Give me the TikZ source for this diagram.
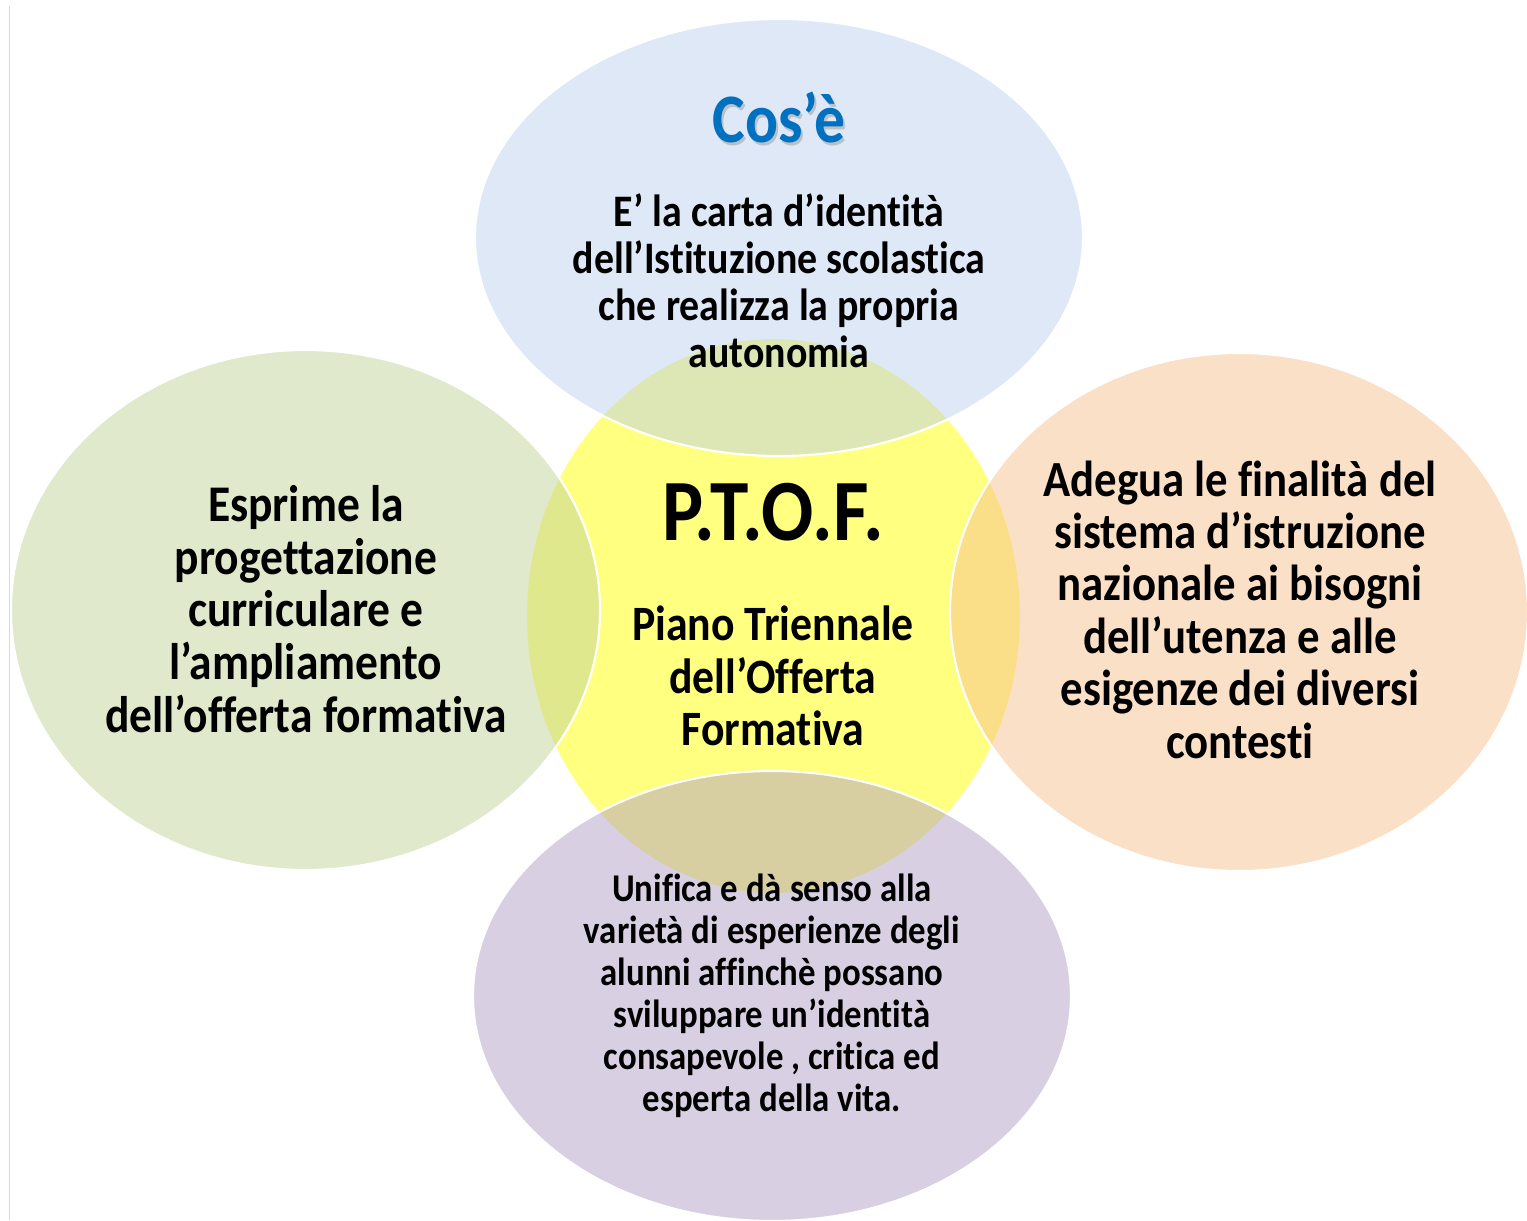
\documentclass[tikz,border=0pt]{standalone}
\usepackage{fontspec}
\setmainfont{Carlito}[Ligatures={NoCommon,NoRequired,NoContextual}]
\usepackage{tikz}

\definecolor{ptofyellow}{RGB}{255,255,128}
\definecolor{coseblue}{RGB}{189,209,237}
\definecolor{leftgreen}{RGB}{193,211,153}
\definecolor{rightpeach}{RGB}{247,193,145}
\definecolor{downlilac}{RGB}{177,161,197}
\definecolor{titleblue}{RGB}{0,112,192}

\begin{document}
\begin{tikzpicture}[x=0.02cm, y=-0.02cm,
        bubble/.style={draw=white, line width=1.2pt, fill opacity=0.5},
        body/.style={align=center, yscale=1.13}]
        \useasboundingbox (0,0) rectangle (1527,1220);
        \draw [black!15, line width=0.6pt] (9.5,6) -- (9.5,1220);

        \coordinate (ptof) at (773.5,616);
        \coordinate (cose) at (779,237.5);
        \coordinate (sx) at (305.5,610);
        \coordinate (dx) at (1239,612);
        \coordinate (giu) at (772,996);

        \fill [ptofyellow] (ptof) ellipse [x radius=246.5, y radius=277];
        \draw [bubble, fill=coseblue] (cose) ellipse [x radius=304, y radius=218.5];
        \draw [bubble, fill=leftgreen] (sx) ellipse [x radius=294.5, y radius=260];
        \draw [bubble, fill=rightpeach] (dx) ellipse [x radius=289, y radius=259];
        \draw [bubble, fill=downlilac] (giu) ellipse [x radius=299, y radius=225];

        % testi
        \node [body, anchor=base, text=black!40, opacity=0.5, font=\bfseries\fontsize{35}{40}\selectfont] (coseshadow) at (781,145.5) {Cos’è};
        \node [body, anchor=base, text=titleblue, font=\bfseries\fontsize{35}{40}\selectfont] (cosetitle) at (779,142.7) {Cos’è};
        \node [body, font=\bfseries\fontsize{22.7}{23.7}\selectfont] (cosetext) at (779,281) {E’ la carta d’identità\\ dell’Istituzione scolastica\\ che realizza la propria\\ autonomia};

        \node [body, anchor=base, font=\bfseries\fontsize{44}{50}\selectfont] (ptoftitle) at (773,540) {P.T.O.F.};
        \node [body, font=\bfseries\fontsize{24.9}{26.6}\selectfont] (ptoftext) at (773,676) {Piano Triennale\\ dell’Offerta\\ Formativa};

        \node [body, font=\bfseries\fontsize{25.9}{26.5}\selectfont] (sxtext) at (306,609) {Esprime la\\ progettazione\\ curriculare e\\ l’ampliamento\\ dell’offerta formativa};
        \node [body, font=\bfseries\fontsize{25.5}{26.4}\selectfont] (dxtext) at (1240,609.5) {Adegua le finalità del\\ sistema d’istruzione\\ nazionale ai bisogni\\ dell’utenza e alle\\ esigenze dei diversi\\ contesti};
        \node [body, font=\bfseries\fontsize{19.8}{21.2}\selectfont] (giutext) at (772,996) {Unifica e dà senso alla\\ varietà di esperienze degli\\ alunni affinchè possano\\ sviluppare un’identità\\ consapevole , critica ed\\ esperta della vita.};
\end{tikzpicture}
\end{document}
